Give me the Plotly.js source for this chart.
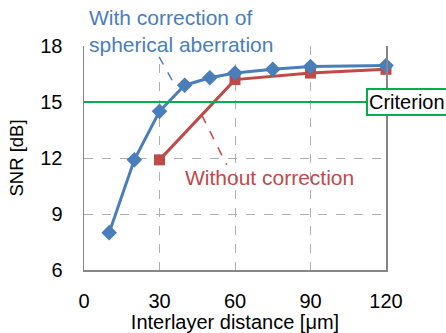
<!DOCTYPE html>
<html><head><meta charset="utf-8">
<script src="https://cdn.plot.ly/plotly-3.0.1.min.js"></script>
<style>html,body{margin:0;padding:0;background:#fff}</style>
</head><body><div id="plot" style="width:446px;height:333px"></div>
<script>
const withX = [10, 20, 30, 40, 50, 60, 75, 90, 120];
const withY = [8.0, 11.9, 14.5, 15.9, 16.3, 16.55, 16.75, 16.9, 16.95];
const withoutX = [30, 60, 90, 120];
const withoutY = [11.9, 16.2, 16.55, 16.75];
const criterion = 15;
const xTicks = [0, 30, 60, 90, 120];
const yTicks = [6, 9, 12, 15, 18];
const BLUE = '#4a7ebb', RED = '#be4b48', GREEN = '#00b050';
const F = 'Arial, "Liberation Sans", sans-serif';

const traces = [
  {x: withoutX, y: withoutY, mode: 'lines+markers', line: {color: RED, width: 3},
   marker: {symbol: 'square', size: 11, color: RED}, cliponaxis: false},
  {x: withX, y: withY, mode: 'lines+markers', line: {color: BLUE, width: 3},
   marker: {symbol: 'diamond', size: 12, color: BLUE}, cliponaxis: false}
];
const layout = {
  width: 446, height: 333, showlegend: false,
  margin: {l: 84, r: 60, t: 46, b: 63},
  paper_bgcolor: '#fff', plot_bgcolor: '#fff',
  font: {family: F, size: 20, color: '#000'},
  xaxis: {range: [0, 120], tickvals: xTicks, ticktext: xTicks.map(String),
    showline: true, linecolor: '#868686', linewidth: 1.5, zeroline: false,
    showgrid: true, gridcolor: '#b0b0b0', griddash: 'dash', gridwidth: 1,
    ticks: '', ticklabelstandoff: 12, tickfont: {size: 20},
    title: {text: 'Interlayer distance [μm]', font: {size: 20, family: F}, standoff: 4}},
  yaxis: {range: [6, 18], tickvals: yTicks, ticktext: yTicks.map(String),
    showline: true, mirror: true, linecolor: '#868686', linewidth: 1.5, zeroline: false,
    showgrid: true, gridcolor: '#b0b0b0', griddash: 'dash', gridwidth: 1,
    ticks: '', ticklabelstandoff: 16, tickfont: {size: 20},
    title: {text: 'SNR [dB]', font: {size: 18.5, family: F}, standoff: 12}},
  shapes: [
    {type: 'line', xref: 'x', yref: 'y', x0: 0, x1: 120, y0: criterion, y1: criterion,
     line: {color: GREEN, width: 2}, layer: 'above'},
    {type: 'line', xref: 'x', yref: 'y', x0: 29.8, y0: 17.43, x1: 36.8, y1: 15.73,
     line: {color: BLUE, width: 1.5, dash: 'dash'}},
    {type: 'line', xref: 'x', yref: 'y', x0: 46.8, y0: 14.3, x1: 56.7, y1: 11.63,
     line: {color: RED, width: 1.5, dash: 'dash'}}
  ],
  annotations: [
    {xref: 'paper', yref: 'paper', x: 0.013, y: 1.067, xanchor: 'left', yanchor: 'middle',
     align: 'left',
     text: 'With correction of<br>spherical aberration', showarrow: false,
     font: {color: BLUE, size: 21, family: F}, bgcolor: '#fff', borderpad: 0},
    {xref: 'x', yref: 'y', x: 73.9, y: 10.93, xanchor: 'center', yanchor: 'middle',
     text: 'Without correction', showarrow: false,
     font: {color: RED, size: 21, family: F}},
    {xref: 'paper', yref: 'y', x: 0.934, y: criterion, xanchor: 'left', yanchor: 'middle',
     text: 'Criterion', showarrow: false, bgcolor: '#fff', bordercolor: GREEN, borderwidth: 2,
     borderpad: 1, font: {color: '#000', size: 20, family: F}}
  ]
};
Plotly.newPlot('plot', traces, layout, {displayModeBar: false, staticPlot: true});
</script></body></html>
